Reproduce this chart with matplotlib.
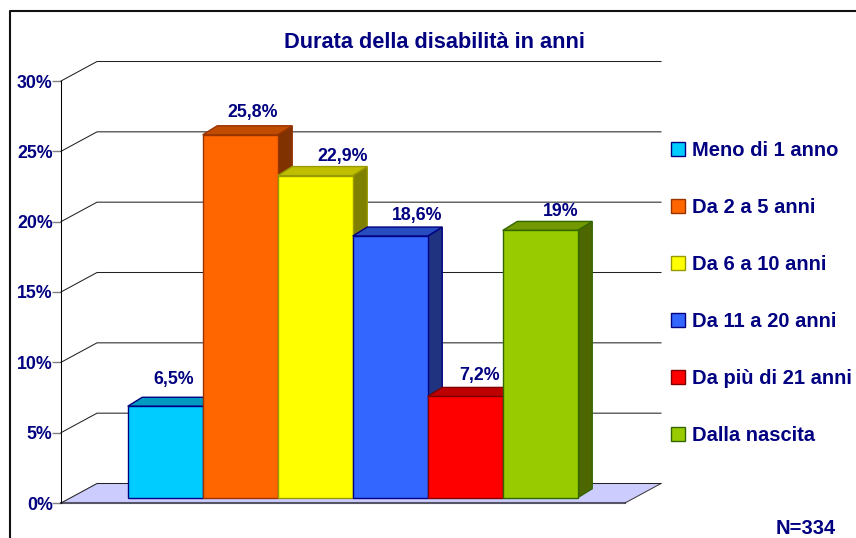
# coding: utf-8
import matplotlib
matplotlib.use('Agg')
import matplotlib.pyplot as plt
from matplotlib.patches import Polygon, Patch
from matplotlib.lines import Line2D

plt.rcParams['font.family'] = ['Liberation Sans', 'DejaVu Sans']
plt.rcParams['font.weight'] = 'bold'

categories = ['Meno di 1 anno', 'Da 2 a 5 anni', 'Da 6 a 10 anni',
              'Da 11 a 20 anni', 'Da più di 21 anni', 'Dalla nascita']
values = [6.5, 25.8, 22.9, 18.6, 7.2, 19.0]
value_labels = ['6,5%', '25,8%', '22,9%', '18,6%', '7,2%', '19%']
y_ticks = [0, 5, 10, 15, 20, 25, 30]
y_tick_labels = ['0%', '5%', '10%', '15%', '20%', '25%', '30%']

front = ['#00CCFF', '#FF6600', '#FFFF00', '#3366FF', '#FF0000', '#99CC00']
top = ['#0099BF', '#BF4C00', '#BFBF00', '#264CBF', '#BF0000', '#739900']
side = ['#006680', '#803300', '#808000', '#1F3380', '#800000', '#4D6600']
edge = ['#000080', '#993300', '#999900', '#000080', '#800000', '#336600']
navy = '#000080'

# label offsets from the bar centre/top, in points
label_dx = [6, 9, 19.5, 19.5, 10, 15]
label_dy = [19.5, 16, 13.5, 15, 15, 13.5]

W, H = 856, 538
fig = plt.figure(figsize=(W / 100, H / 100), dpi=100)
ax = fig.add_axes([61 / W, 1 - 503 / H, 564 / W, 422 / H])
ax.set_xlim(-0.89, 6.63)
ax.set_ylim(0, 30)
ax.patch.set_alpha(0)

# depth of the back wall and of the bars, in data units
wall_dx, wall_dy = 0.48, 1.386
bar_dx, bar_dy = 0.193, 0.64
base = 0.377
x0, x1 = ax.get_xlim()

floor = Polygon([(x0, 0), (x1, 0), (x1 + wall_dx, wall_dy), (x0 + wall_dx, wall_dy)],
                facecolor='#CCCCFF', edgecolor='none', clip_on=False, zorder=1)
ax.add_patch(floor)
ax.plot([x0, x1], [0, 0], color='#555566', lw=1.5, clip_on=False, zorder=2)
ax.plot([x1, x1 + wall_dx], [0, wall_dy], color='#333333', lw=0.7, clip_on=False, zorder=2)

for t in y_ticks:
    ax.plot([x0, x0 + wall_dx, x1 + wall_dx], [t, t + wall_dy, t + wall_dy],
            color='#222222', lw=0.75, clip_on=False, zorder=2)

for i, v in enumerate(values):
    z = 3 + i * 0.1
    t = base + v
    ax.add_patch(Polygon([(i + 1, base), (i + 1 + bar_dx, base + bar_dy),
                          (i + 1 + bar_dx, t + bar_dy), (i + 1, t)],
                         facecolor=side[i], edgecolor=edge[i], lw=1, zorder=z, clip_on=False))
    ax.add_patch(Polygon([(i, t), (i + bar_dx, t + bar_dy),
                          (i + 1 + bar_dx, t + bar_dy), (i + 1, t)],
                         facecolor=top[i], edgecolor=edge[i], lw=1, zorder=z, clip_on=False))
    ax.bar(i, v, width=1, bottom=base, align='edge', color=front[i],
           edgecolor=edge[i], linewidth=1, zorder=z, clip_on=False)
    ax.annotate(value_labels[i], (i + 0.5, t), xytext=(label_dx[i], label_dy[i]),
                textcoords='offset points', ha='center', va='center',
                color=navy, fontsize=12.8, fontweight='bold', zorder=10)

ax.set_xticks([])
ax.set_yticks(y_ticks)
ax.set_yticklabels(y_tick_labels, color=navy, fontsize=12.8, fontweight='bold')
ax.tick_params(axis='y', length=6.5, width=1, color='#808080', pad=-0.5)
for s in ['top', 'right', 'bottom']:
    ax.spines[s].set_visible(False)
ax.spines['left'].set_linewidth(0.75)
ax.spines['left'].set_zorder(5)

handles = [Patch(facecolor=front[i], edgecolor=edge[i], linewidth=1) for i in range(len(categories))]
fig.legend(handles, categories, loc='upper left', bbox_to_anchor=(671 / W, 1 - 141 / H),
           frameon=False, borderpad=0, borderaxespad=0,
           labelcolor=navy, handlelength=0.7, handleheight=0.7, handletextpad=0.35,
           labelspacing=1.89, prop={'weight': 'bold', 'size': 14.5})

fig.text(434.5 / W, 1 - 42 / H, 'Durata della disabilità in anni', ha='center', va='center',
         color=navy, fontsize=15.7, fontweight='bold')
fig.text(806 / W, 1 - 528 / H, 'N=334', ha='center', va='center',
         color=navy, fontsize=14.5, fontweight='bold')

# outer frame, open at the right and bottom
fig.add_artist(Line2D([9.5 / W, 9.5 / W, 1], [0, 1 - 11 / H, 1 - 11 / H],
                      color='#111111', lw=1.5, transform=fig.transFigure))

fig.savefig('out.png', dpi=100)
